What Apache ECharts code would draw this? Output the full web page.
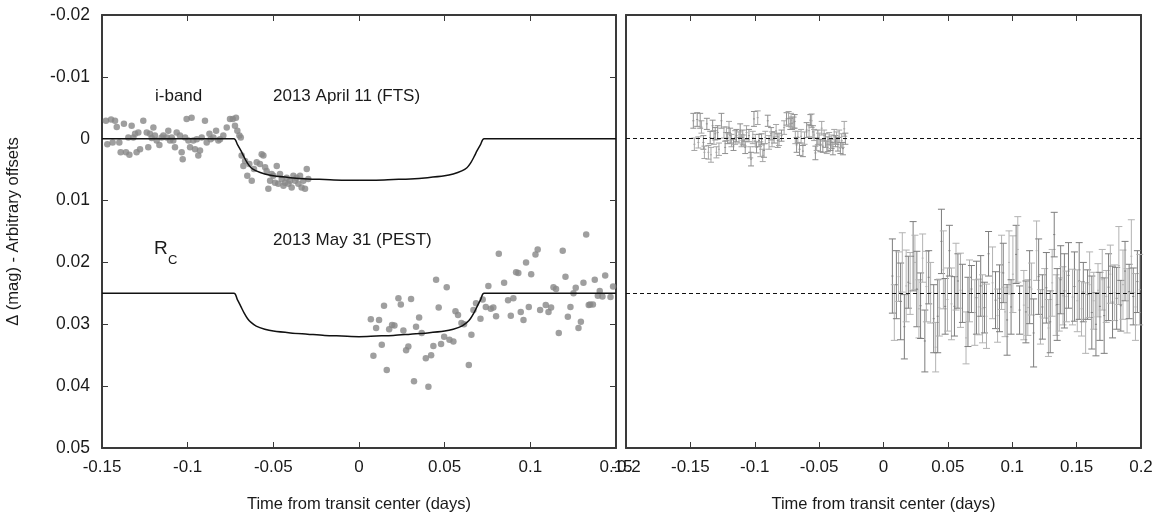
<!DOCTYPE html>
<html><head><meta charset="utf-8">
<script src="https://cdn.jsdelivr.net/npm/echarts@6/dist/echarts.min.js"></script>
<style>html,body{margin:0;padding:0;background:#fff}#c{width:1165px;height:522px}</style>
</head><body><div id="c"></div>
<script>
// ---------- data ----------
const xTitle = 'Time from transit center (days)';
const yTitle = 'Δ (mag) - Arbitrary offsets';

// i-band (FTS) light curve
const iT = [-0.1477,-0.1469,-0.1447,-0.1438,-0.1424,-0.1414,-0.1399,-0.1391,-0.1372,-0.1360,
-0.1346,-0.1340,-0.1327,-0.1317,-0.1307,-0.1298,-0.1288,-0.1278,-0.1259,-0.1239,
-0.1230,-0.1220,-0.1210,-0.1200,-0.1191,-0.1181,-0.1165,-0.1152,-0.1142,-0.1122,
-0.1113,-0.1103,-0.1093,-0.1084,-0.1074,-0.1064,-0.1045,-0.1035,-0.1029,-0.1015,
-0.1006,-0.0996,-0.0986,-0.0977,-0.0967,-0.0957,-0.0947,-0.0938,-0.0928,-0.0918,
-0.0899,-0.0889,-0.0873,-0.0866,-0.0850,-0.0834,-0.0821,-0.0811,-0.0792,-0.0772,
-0.0753,-0.0737,-0.0724,-0.0718,-0.0710,-0.0698,-0.0690,-0.0685,-0.0675,-0.0665,
-0.0652,-0.0640,-0.0626,-0.0613,-0.0597,-0.0578,-0.0568,-0.0558,-0.0548,-0.0539,
-0.0529,-0.0519,-0.0510,-0.0500,-0.0490,-0.0480,-0.0471,-0.0461,-0.0451,-0.0441,
-0.0432,-0.0422,-0.0412,-0.0402,-0.0393,-0.0383,-0.0373,-0.0364,-0.0354,-0.0344,
-0.0335,-0.0325,-0.0315,-0.0305,-0.0296];
const iMag = [-0.0029,0.0009,-0.0031,0.0006,-0.0029,-0.0019,0.0006,0.0022,-0.0024,0.0022,
-0.0002,0.0026,-0.0021,-0.0002,-0.0008,0.0022,-0.0010,0.0017,-0.0029,-0.0010,
0.0014,-0.0008,-0.0001,-0.0018,-0.0005,0.0003,0.0010,-0.0002,-0.0005,-0.0002,
-0.0013,0.0003,-0.0002,0.0003,0.0014,-0.0010,-0.0005,0.0022,0.0033,-0.0002,
-0.0032,0.0003,0.0014,-0.0034,0.0003,0.0017,0.0001,0.0027,0.0019,-0.0002,
-0.0029,0.0006,-0.0008,0.0001,-0.0002,-0.0013,0.0003,0.0001,-0.0005,-0.0018,
-0.0032,-0.0032,-0.0021,-0.0034,-0.0013,-0.0005,-0.0002,0.0027,0.0044,0.0036,
0.0060,0.0041,0.0068,0.0049,0.0038,0.0041,0.0025,0.0027,0.0046,0.0052,
0.0081,0.0068,0.0057,0.0060,0.0071,0.0044,0.0073,0.0057,0.0065,0.0076,
0.0071,0.0063,0.0073,0.0068,0.0079,0.0060,0.0068,0.0063,0.0073,0.0060,
0.0079,0.0068,0.0081,0.0049,0.0065];

// transit model curves
const modelT = [-0.15,-0.073,-0.071,-0.069,-0.067,-0.065,-0.063,-0.060,-0.055,-0.050,
-0.040,-0.030,-0.020,-0.010,0,0.010,0.020,0.030,0.040,0.050,
0.055,0.060,0.063,0.065,0.067,0.069,0.071,0.073,0.15];
const iModel = [0,0,0.0009,0.0019,0.0030,0.0040,0.0047,0.0052,0.0057,0.0060,
0.0063,0.0065,0.0066,0.0067,0.0067,0.0067,0.0066,0.0065,0.0063,0.0060,
0.0057,0.0052,0.0047,0.0040,0.0030,0.0019,0.0009,0,0];
const rcModel = [0.025,0.025,0.0260,0.0271,0.0282,0.0291,0.0297,0.0303,0.0308,0.0311,
0.0314,0.0316,0.0318,0.0319,0.0320,0.0319,0.0318,0.0316,0.0314,0.0311,
0.0308,0.0303,0.0297,0.0291,0.0282,0.0271,0.0260,0.025,0.025];

// Rc (PEST) light curve
const rcT = [0.0069,0.0084,0.0100,0.0117,0.0133,0.0146,0.0162,0.0176,0.0193,0.0207,
0.0230,0.0244,0.0259,0.0275,0.0288,0.0304,0.0321,0.0333,0.0351,0.0366,
0.0390,0.0405,0.0421,0.0434,0.0450,0.0465,0.0479,0.0497,0.0512,0.0528,
0.0551,0.0563,0.0578,0.0598,0.0613,0.0641,0.0656,0.0668,0.0683,0.0709,
0.0722,0.0740,0.0755,0.0769,0.0784,0.0800,0.0816,0.0847,0.0870,0.0886,
0.0901,0.0917,0.0930,0.0944,0.0960,0.0975,0.0991,0.1005,0.1030,0.1043,
0.1057,0.1090,0.1106,0.1121,0.1135,0.1150,0.1166,0.1189,0.1205,0.1219,
0.1234,0.1252,0.1265,0.1281,0.1295,0.1310,0.1326,0.1341,0.1349,0.1365,
0.1376,0.1394,0.1405,0.1421,0.1437,0.1468,0.1483];
const rcMag = [0.0292,0.0351,0.0306,0.0293,0.0333,0.0270,0.0374,0.0308,0.0301,0.0302,
0.0258,0.0268,0.0310,0.0342,0.0336,0.0259,0.0392,0.0304,0.0289,0.0314,
0.0355,0.0401,0.0350,0.0335,0.0228,0.0273,0.0332,0.0320,0.0240,0.0325,
0.0328,0.0279,0.0285,0.0298,0.0300,0.0366,0.0317,0.0277,0.0266,0.0291,
0.0260,0.0272,0.0238,0.0275,0.0273,0.0287,0.0186,0.0233,0.0261,0.0286,
0.0258,0.0216,0.0217,0.0280,0.0293,0.0200,0.0272,0.0219,0.0187,0.0179,
0.0277,0.0269,0.0280,0.0273,0.0240,0.0243,0.0314,0.0181,0.0223,0.0288,
0.0272,0.0250,0.0241,0.0306,0.0296,0.0233,0.0155,0.0269,0.0268,0.0268,
0.0228,0.0254,0.0246,0.0255,0.0221,0.0256,0.0239];

// residuals (right panel)
const iRes = [-0.0029,0.0009,-0.0031,0.0006,-0.0029,-0.0019,0.0006,0.0022,-0.0024,0.0022,
-0.0002,0.0026,-0.0021,-0.0002,-0.0008,0.0022,-0.0010,0.0017,-0.0029,-0.0010,
0.0014,-0.0008,-0.0001,-0.0018,-0.0005,0.0003,0.0010,-0.0002,-0.0005,-0.0002,
-0.0013,0.0003,-0.0002,0.0003,0.0014,-0.0010,-0.0005,0.0022,0.0033,-0.0002,
-0.0032,0.0003,0.0014,-0.0034,0.0003,0.0017,0.0001,0.0027,0.0019,-0.0002,
-0.0029,0.0006,-0.0008,0.0001,-0.0002,-0.0013,0.0003,0.0001,-0.0005,-0.0018,
-0.0032,-0.0032,-0.0024,-0.0030,-0.0025,-0.0026,-0.0028,-0.0002,0.0010,-0.0003,
0.0017,-0.0004,0.0020,-0.0001,-0.0014,-0.0013,-0.0030,-0.0029,-0.0011,-0.0006,
0.0023,0.0009,-0.0002,0.0000,0.0011,-0.0017,0.0012,-0.0005,0.0003,0.0014,
0.0009,0.0000,0.0010,0.0005,0.0016,-0.0003,0.0004,-0.0001,0.0009,-0.0004,
0.0015,0.0003,0.0016,-0.0016,0.0000];
const iErr = [0.0012,0.0010,0.0011,0.0009,0.0012,0.0010,0.0011,0.0010,0.0009,0.0011,
0.0010,0.0012,0.0009,0.0011,0.0010,0.0009,0.0011,0.0010,0.0012,0.0009,
0.0010,0.0011,0.0009,0.0010,0.0012,0.0010,0.0009,0.0011,0.0010,0.0009,
0.0011,0.0010,0.0012,0.0009,0.0010,0.0011,0.0010,0.0009,0.0011,0.0010,
0.0012,0.0010,0.0009,0.0011,0.0010,0.0012,0.0009,0.0010,0.0011,0.0010,
0.0009,0.0011,0.0010,0.0012,0.0009,0.0010,0.0011,0.0010,0.0009,0.0011,
0.0010,0.0012,0.0009,0.0011,0.0010,0.0009,0.0011,0.0010,0.0012,0.0009,
0.0010,0.0011,0.0009,0.0010,0.0012,0.0010,0.0009,0.0011,0.0010,0.0009,
0.0011,0.0010,0.0012,0.0009,0.0010,0.0011,0.0010,0.0009,0.0011,0.0010,
0.0012,0.0010,0.0009,0.0011,0.0010,0.0012,0.0009,0.0010,0.0011,0.0010,
0.0009,0.0011,0.0010,0.0012,0.0009];
const rcTExtra = [0.1505,0.1520,0.1538,0.1552,0.1570,0.1585,0.1601,0.1618,0.1633,0.1650,
0.1666,0.1681,0.1699,0.1714,0.1730,0.1748,0.1762,0.1779,0.1795,0.1811,
0.1828,0.1843,0.1860,0.1876,0.1892,0.1908,0.1925,0.1940,0.1957,0.1972,0.1990];
const rcRes = [0.0222,0.0281,0.0236,0.0223,0.0263,0.0200,0.0304,0.0238,0.0232,0.0234,
0.0190,0.0200,0.0243,0.0275,0.0270,0.0193,0.0327,0.0239,0.0224,0.0249,
0.0291,0.0337,0.0287,0.0273,0.0166,0.0212,0.0271,0.0260,0.0181,0.0267,
0.0271,0.0223,0.0230,0.0245,0.0250,0.0322,0.0280,0.0246,0.0243,0.0281,
0.0257,0.0272,0.0238,0.0275,0.0273,0.0287,0.0186,0.0233,0.0261,0.0286,
0.0258,0.0216,0.0217,0.0280,0.0293,0.0200,0.0272,0.0219,0.0187,0.0179,
0.0277,0.0269,0.0280,0.0273,0.0240,0.0243,0.0314,0.0181,0.0223,0.0288,
0.0272,0.0250,0.0241,0.0306,0.0296,0.0233,0.0155,0.0269,0.0268,0.0268,
0.0228,0.0254,0.0246,0.0255,0.0221,0.0256,0.0239,
0.0262,0.0230,0.0275,0.0248,0.0290,0.0252,0.0236,0.0281,0.0262,0.0300,
0.0245,0.0271,0.0228,0.0286,0.0255,0.0240,0.0219,0.0264,0.0249,0.0258,
0.0205,0.0270,0.0236,0.0214,0.0262,0.0247,0.0190,0.0255,0.0272,0.0231,0.0244];
const rcErr = [0.0060,0.0045,0.0055,0.0040,0.0062,0.0048,0.0052,0.0058,0.0042,0.0050,
0.0056,0.0044,0.0061,0.0047,0.0053,0.0039,0.0050,0.0057,0.0043,0.0049,
0.0055,0.0040,0.0059,0.0046,0.0052,0.0063,0.0045,0.0051,0.0041,0.0058,
0.0048,0.0054,0.0044,0.0060,0.0047,0.0042,0.0056,0.0050,0.0038,0.0053,
0.0059,0.0045,0.0049,0.0055,0.0041,0.0052,0.0036,0.0058,0.0046,0.0043,
0.0054,0.0060,0.0048,0.0040,0.0057,0.0051,0.0044,0.0062,0.0047,0.0053,
0.0039,0.0056,0.0050,0.0045,0.0059,0.0042,0.0055,0.0048,0.0061,0.0044,
0.0052,0.0040,0.0057,0.0046,0.0050,0.0054,0.0036,0.0049,0.0058,0.0043,
0.0055,0.0047,0.0060,0.0041,0.0053,0.0045,0.0056,0.0050,0.0062,0.0044,
0.0048,0.0057,0.0040,0.0053,0.0059,0.0046,0.0051,0.0043,0.0055,0.0049,
0.0061,0.0042,0.0054,0.0047,0.0058,0.0045,0.0050,0.0063,0.0041,0.0056,
0.0048,0.0052,0.0044,0.0059,0.0046,0.0054,0.0050,0.0057];
const baseLines = [0, 0.025];

// ---------- chart ----------
const FONT = '"Liberation Sans", Arial, Helvetica, sans-serif';
const AX = '#3a3a3a';
const TXT = '#1a1a1a';

const zip = (a, b) => a.map((v, i) => [v, b[i]]);
const errData = (t, r, e) => t.map((v, i) => [v, r[i] - e[i], r[i] + e[i], r[i]]).filter(d => !isNaN(d[1]));
const rcResT = rcT.concat(rcTExtra);

function errRenderer(cap, colors) {
  return function (params, api) {
    const x = api.value(0);
    const lo = api.coord([x, api.value(1)]);
    const hi = api.coord([x, api.value(2)]);
    const mid = api.coord([x, api.value(3)]);
    const c = colors[params.dataIndex % colors.length];
    const st = { stroke: c, lineWidth: 1 };
    return {
      type: 'group',
      children: [
        { type: 'line', shape: { x1: lo[0], y1: lo[1], x2: hi[0], y2: hi[1] }, style: st },
        { type: 'line', shape: { x1: lo[0] - cap, y1: lo[1], x2: lo[0] + cap, y2: lo[1] }, style: st },
        { type: 'line', shape: { x1: hi[0] - cap, y1: hi[1], x2: hi[0] + cap, y2: hi[1] }, style: st },
        { type: 'line', shape: { x1: mid[0] - 1, y1: mid[1], x2: mid[0] + 1, y2: mid[1] }, style: st }
      ]
    };
  };
}

function xAx(grid, pos, min, max, labels, name) {
  return {
    type: 'value', gridIndex: grid, position: pos, min: min, max: max, interval: 0.05,
    axisLine: { show: true, onZero: false, lineStyle: { color: AX, width: 2 } },
    axisTick: { show: true, inside: true, length: 6, lineStyle: { color: AX, width: 1 } },
    axisLabel: { show: labels, fontSize: 17, fontFamily: FONT, color: TXT, margin: 11 },
    splitLine: { show: false },
    name: name || '', nameLocation: 'middle', nameGap: 48,
    nameTextStyle: { fontSize: 16.5, fontFamily: FONT, color: TXT }
  };
}
function yAx(grid, pos, labels, ticks, name) {
  return {
    type: 'value', gridIndex: grid, position: pos, inverse: true,
    min: -0.02, max: 0.05, interval: 0.01,
    axisLine: { show: true, onZero: false, lineStyle: { color: AX, width: 2 } },
    axisTick: { show: ticks, inside: true, length: 6, lineStyle: { color: AX, width: 1 } },
    axisLabel: { show: labels, fontSize: 17.5, fontFamily: FONT, color: TXT, margin: 12 },
    splitLine: { show: false },
    name: name || '', nameLocation: 'middle', nameGap: 80,
    nameTextStyle: { fontSize: 16.5, fontFamily: FONT, color: TXT }
  };
}

const chart = echarts.init(document.getElementById('c'), null, { renderer: 'canvas' });
chart.setOption({
  animation: false,
  backgroundColor: '#ffffff',
  grid: [
    { left: 102, top: 15, width: 514, height: 433 },
    { left: 626, top: 15, width: 515, height: 433 }
  ],
  xAxis: [
    xAx(0, 'bottom', -0.15, 0.15, true, xTitle),
    xAx(0, 'top', -0.15, 0.15, false),
    xAx(1, 'bottom', -0.2, 0.2, true, xTitle),
    xAx(1, 'top', -0.2, 0.2, false)
  ],
  yAxis: [
    yAx(0, 'left', true, true, yTitle),
    yAx(0, 'right', false, true),
    yAx(1, 'left', false, false),
    yAx(1, 'right', false, false)
  ],
  series: [
    { type: 'scatter', xAxisIndex: 0, yAxisIndex: 0, data: zip(iT, iMag), symbolSize: 6.5,
      itemStyle: { color: '#878787' }, silent: true },
    { type: 'scatter', xAxisIndex: 0, yAxisIndex: 0, data: zip(rcT, rcMag), symbolSize: 6.5,
      itemStyle: { color: '#878787' }, silent: true },
    { type: 'line', xAxisIndex: 0, yAxisIndex: 0, data: zip(modelT, iModel), showSymbol: false,
      smooth: 0.3, lineStyle: { color: '#111', width: 1.5 }, silent: true, z: 5 },
    { type: 'line', xAxisIndex: 0, yAxisIndex: 0, data: zip(modelT, rcModel), showSymbol: false,
      smooth: 0.3, lineStyle: { color: '#111', width: 1.5 }, silent: true, z: 5 },
    { type: 'custom', xAxisIndex: 2, yAxisIndex: 2, data: errData(iT, iRes, iErr),
      renderItem: errRenderer(3, ['#8f8f8f', '#a5a5a5']), silent: true, z: 3,
      markLine: { silent: true, symbol: 'none', precision: 5, label: { show: false },
        lineStyle: { color: '#111', type: [4, 3], width: 1 },
        data: baseLines.map(v => ({ yAxis: v })) } },
    { type: 'custom', xAxisIndex: 2, yAxisIndex: 2, data: errData(rcResT, rcRes, rcErr),
      renderItem: errRenderer(3.5, ['#7d7d7d', '#b3b3b3']), silent: true, z: 3 }
  ],
  graphic: [
    { type: 'text', x: 155, y: 96, style: { text: 'i-band', fontSize: 17, fontFamily: FONT, fill: TXT, verticalAlign: 'middle' } },
    { type: 'text', x: 273, y: 96, style: { text: '2013 April 11 (FTS)', fontSize: 17, fontFamily: FONT, fill: TXT, verticalAlign: 'middle' } },
    { type: 'text', x: 154, y: 249, style: { text: 'R', fontSize: 19, fontFamily: FONT, fill: TXT, verticalAlign: 'middle' } },
    { type: 'text', x: 168, y: 260, style: { text: 'C', fontSize: 13, fontFamily: FONT, fill: TXT, verticalAlign: 'middle' } },
    { type: 'text', x: 273, y: 240, style: { text: '2013 May 31 (PEST)', fontSize: 17, fontFamily: FONT, fill: TXT, verticalAlign: 'middle' } }
  ]
});
</script></body></html>
